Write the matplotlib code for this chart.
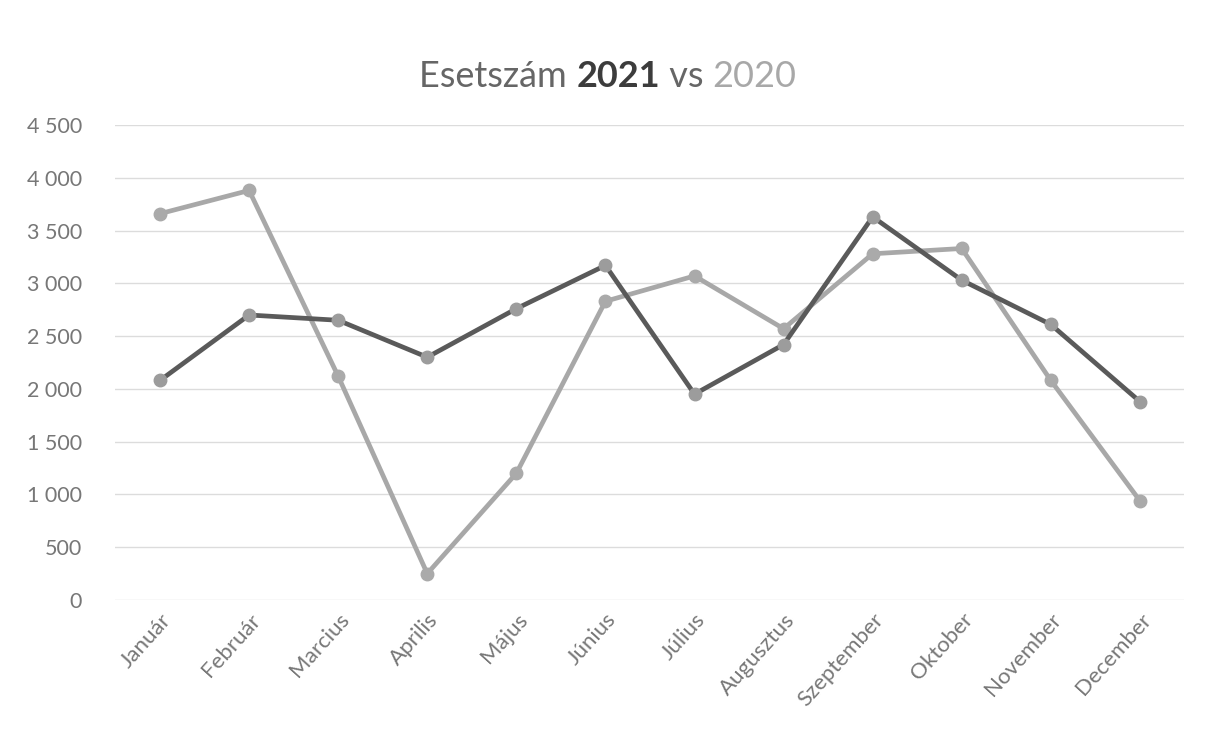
import matplotlib.pyplot as plt

months = ['Január', 'Február', 'Marcius', 'Aprilis', 'Május', 'Június',
          'Július', 'Augusztus', 'Szeptember', 'Oktober', 'November', 'December']
cases_2021 = [2080, 2700, 2650, 2300, 2760, 3170, 1950, 2420, 3630, 3030, 2610, 1880]
cases_2020 = [3660, 3880, 2120, 250, 1200, 2830, 3070, 2570, 3280, 3330, 2080, 940]
yticks = [0, 500, 1000, 1500, 2000, 2500, 3000, 3500, 4000, 4500]

plt.rcParams['font.family'] = ['Lato', 'DejaVu Sans']

fig = plt.figure(figsize=(12.08, 7.53), dpi=100)
ax = fig.add_axes([0.0956, 0.2032, 0.8849, 0.6308])

x = list(range(len(months)))
ax.plot(x, cases_2020, color='#a8a8a8', lw=3.4, marker='o', ms=9,
        mfc='#aaaaaa', mec='#aaaaaa', zorder=3)
ax.plot(x, cases_2021, color='#5a5a5a', lw=3.4, marker='o', ms=9,
        mfc='#9c9c9c', mec='#9c9c9c', zorder=4)

ax.set_xlim(-0.5, 11.5)
ax.set_ylim(0, 4500)
ax.set_yticks(yticks)
ax.set_yticklabels([f'{v:,}'.replace(',', ' ') for v in yticks])
ax.set_xticks(x)
ax.set_xticklabels(months, rotation=48, ha='right', rotation_mode='anchor')
ax.tick_params(length=0, labelcolor='#777777')
ax.tick_params(axis='y', pad=24, labelsize=15.5)
ax.tick_params(axis='x', pad=7, labelsize=16)
ax.grid(axis='y', color='#dcdcdc', lw=1)
ax.set_axisbelow(True)
for s in ax.spines.values():
    s.set_visible(False)

# title with mixed styling
t1 = fig.text(0.347, 0.885, 'Esetszám ', fontsize=26, color='#666666', ha='left', va='baseline')
t2 = ax.annotate('2021', xy=(1, 0), xycoords=t1, fontsize=26, color='#3c3c3c',
                 fontweight='bold', ha='left', va='bottom', annotation_clip=False)
t3 = ax.annotate(' vs ', xy=(1, 0), xycoords=t2, fontsize=26, color='#666666',
                 ha='left', va='bottom', annotation_clip=False)
ax.annotate('2020', xy=(1, 0), xycoords=t3, fontsize=26, color='#a8a8a8',
            ha='left', va='bottom', annotation_clip=False)

fig.savefig('out.png', dpi=100, facecolor='white')
